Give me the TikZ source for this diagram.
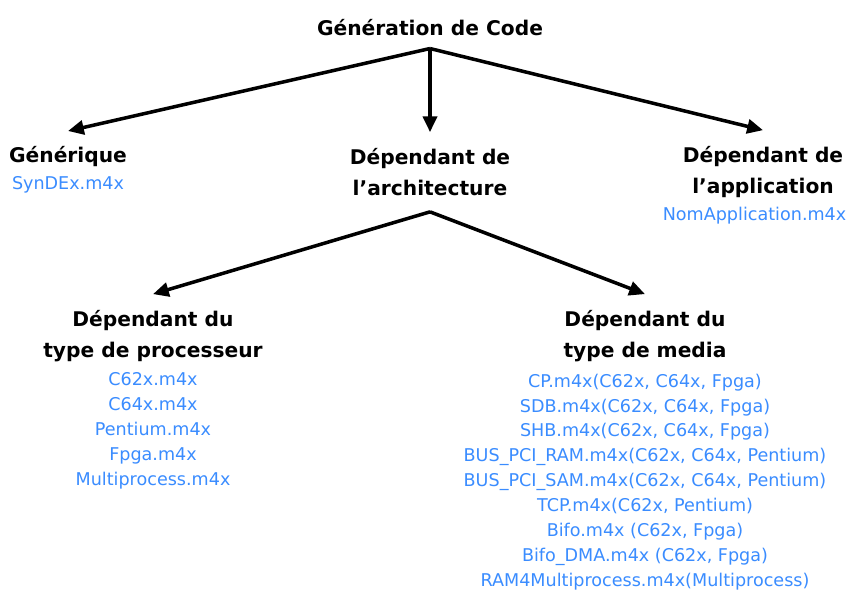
\documentclass[tikz,border=0pt]{standalone}
\usepackage{fontspec}
\setmainfont{DejaVu Sans}
\usetikzlibrary{positioning,arrows.meta}
\definecolor{fileblue}{RGB}{58,140,255}

\begin{document}
\begin{tikzpicture}[x=0.02cm, y=-0.02cm, >={Triangle[length=9pt,width=8pt]}, line width=2pt,
  head/.style={font=\bfseries\fontsize{11.5}{18}\selectfont,align=center,inner sep=0pt,outer sep=9pt},
  files/.style={font=\fontsize{10}{14.2}\selectfont,text=fileblue,align=center,inner sep=0pt}]
  \useasboundingbox (0,0) rectangle (851,592);
  \node[head,outer sep=7pt] (title) at (430,28) {Génération de Code};
  \node[head] (gen) at (68,157) {Générique};
  \node[files] (genfiles) at (68,185) {SynDEx.m4x};
  \node[head] (arch) at (430,172) {Dépendant de\\l’architecture};
  \node[head] (app) at (763,172) {Dépendant de\\l’application};
  \node[files,anchor=east] (appfiles) at (848,216) {NomApplication.m4x};
  \node[head] (proc) at (153,336) {Dépendant du\\type de processeur};
  \node[files] (procfiles) at (153,431) {C62x.m4x\\C64x.m4x\\Pentium.m4x\\Fpga.m4x\\Multiprocess.m4x};
  \node[head] (media) at (645,336) {Dépendant du\\type de media};
  \node[files] (mediafiles) at (645,482) {CP.m4x(C62x, C64x, Fpga)\\SDB.m4x(C62x, C64x, Fpga)\\SHB.m4x(C62x, C64x, Fpga)\\BUS\_PCI\_RAM.m4x(C62x, C64x, Pentium)\\BUS\_PCI\_SAM.m4x(C62x, C64x, Pentium)\\TCP.m4x(C62x, Pentium)\\Bifo.m4x (C62x, Fpga)\\Bifo\_DMA.m4x (C62x, Fpga)\\RAM4Multiprocess.m4x(Multiprocess)};
  \foreach \t in {gen,arch,app} { \draw[->] (title.south) -- (\t.north); }
  \foreach \t in {proc,media} { \draw[->] (arch.south) -- (\t.north); }
\end{tikzpicture}
\end{document}
